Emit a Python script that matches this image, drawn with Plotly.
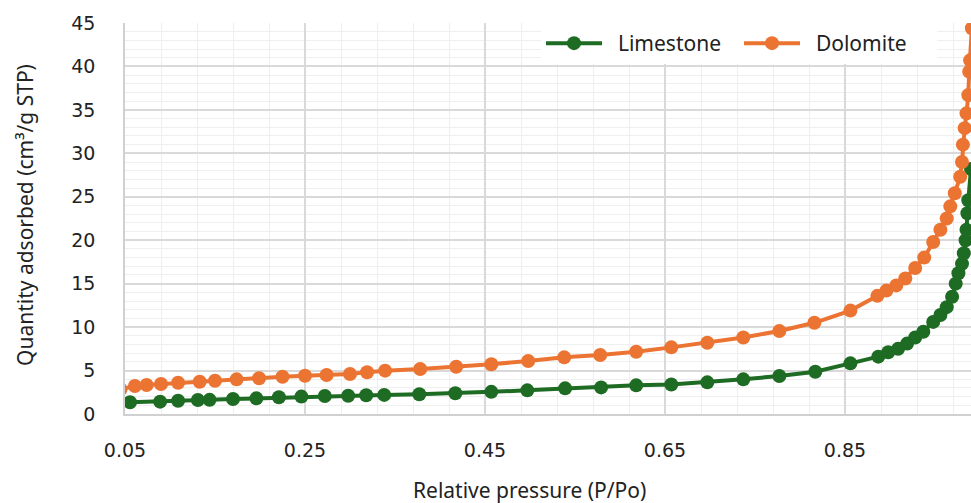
import plotly.graph_objects as go

limestone_x = [0.0556, 0.089, 0.109, 0.131, 0.144, 0.170, 0.196, 0.221, 0.246, 0.272,
               0.298, 0.318, 0.338, 0.377, 0.417, 0.457, 0.497, 0.539, 0.579, 0.618,
               0.657, 0.697, 0.737, 0.777, 0.817, 0.856, 0.887, 0.898, 0.909, 0.919,
               0.928, 0.937, 0.948, 0.956, 0.963, 0.969, 0.973, 0.976, 0.980, 0.982,
               0.984, 0.985, 0.986, 0.987, 0.990]
limestone_y = [1.35, 1.42, 1.53, 1.61, 1.63, 1.72, 1.80, 1.92, 2.00, 2.07,
               2.10, 2.15, 2.20, 2.28, 2.38, 2.55, 2.72, 2.95, 3.06, 3.30,
               3.40, 3.64, 3.99, 4.37, 4.87, 5.83, 6.60, 7.10, 7.50, 8.10,
               8.80, 9.47, 10.6, 11.4, 12.3, 13.5, 15.0, 16.2, 17.3, 18.5,
               20.0, 21.2, 23.1, 24.6, 28.2]

dolomite_x = [0.045, 0.061, 0.074, 0.090, 0.109, 0.133, 0.150, 0.174, 0.199, 0.225,
              0.250, 0.274, 0.300, 0.319, 0.339, 0.378, 0.418, 0.457, 0.498, 0.538,
              0.578, 0.618, 0.657, 0.697, 0.737, 0.777, 0.816, 0.856, 0.886, 0.896,
              0.907, 0.917, 0.928, 0.938, 0.948, 0.956, 0.963, 0.967, 0.972, 0.978,
              0.980, 0.981, 0.983, 0.985, 0.987, 0.988, 0.989, 0.991]
dolomite_y = [2.85, 3.22, 3.34, 3.45, 3.60, 3.72, 3.83, 3.99, 4.11, 4.29,
              4.41, 4.49, 4.60, 4.80, 4.99, 5.18, 5.44, 5.72, 6.10, 6.52,
              6.79, 7.17, 7.67, 8.20, 8.80, 9.55, 10.5, 11.9, 13.6, 14.2,
              14.8, 15.6, 16.8, 18.0, 19.8, 21.2, 22.5, 23.9, 25.4, 27.3,
              29.0, 31.0, 32.9, 34.6, 36.7, 39.4, 40.7, 44.4]

x_ticks = [0.05, 0.25, 0.45, 0.65, 0.85]
y_ticks = [0, 5, 10, 15, 20, 25, 30, 35, 40, 45]

GREEN = "#1e6b24"
ORANGE = "#ec7433"

fig = go.Figure()
fig.add_trace(go.Scatter(x=limestone_x, y=limestone_y, mode="lines+markers",
                         name="\u00a0\u00a0Limestone",
                         line=dict(color=GREEN, width=4),
                         marker=dict(color=GREEN, size=14)))
fig.add_trace(go.Scatter(x=dolomite_x, y=dolomite_y, mode="lines+markers",
                         name="\u00a0\u00a0Dolomite",
                         line=dict(color=ORANGE, width=4),
                         marker=dict(color=ORANGE, size=14)))

tick_font = dict(family="DejaVu Sans, Liberation Sans, sans-serif", size=19, color="#222222")
title_font = dict(family="Noto Sans, Open Sans, sans-serif", size=21, color="#222222")

fig.update_layout(
    width=971, height=503,
    margin=dict(l=125, r=0, t=23, b=89),
    paper_bgcolor="white", plot_bgcolor="white",
    showlegend=True,
    legend=dict(orientation="h", x=(541 - 125) / 846, y=1.0, xanchor="left", yanchor="top",
                bgcolor="white", font=dict(family="Noto Sans, Open Sans, sans-serif", size=21, color="#222222"),
                itemwidth=56, entrywidth=127, entrywidthmode="pixels"),
    xaxis=dict(range=[0.05, 0.99], tickvals=x_ticks, ticktext=[f"{v:.2f}" for v in x_ticks],
               showgrid=True, gridcolor="#d9d9d9", gridwidth=1.5,
               minor=dict(dtick=0.04, tick0=0.05, showgrid=True, gridcolor="#efefef", gridwidth=1),
               showline=True, linecolor="#d0d0d0", linewidth=1.5, zeroline=False,
               tickfont=tick_font, ticks="", ticklabelstandoff=18),
    yaxis=dict(range=[0, 45], tickvals=y_ticks,
               showgrid=True, gridcolor="#d9d9d9", gridwidth=1.5,
               minor=dict(dtick=1, showgrid=True, gridcolor="#efefef", gridwidth=1),
               showline=True, linecolor="#d0d0d0", linewidth=1.5, zeroline=False,
               tickfont=tick_font, ticks="", ticklabelstandoff=24),
    annotations=[
        dict(text="Relative pressure (P/Po)", xref="paper", yref="paper",
             x=(529 - 125) / 846, y=-(490 - 414) / 391, xanchor="center", yanchor="middle",
             showarrow=False, font=title_font),
        dict(text="Quantity adsorbed (cm³/g STP)", xref="paper", yref="paper",
             x=-(125 - 25) / 846, y=(414 - 215) / 391, xanchor="center", yanchor="middle",
             textangle=-90, showarrow=False, font=title_font),
    ],
)

fig.write_html("out.html")
